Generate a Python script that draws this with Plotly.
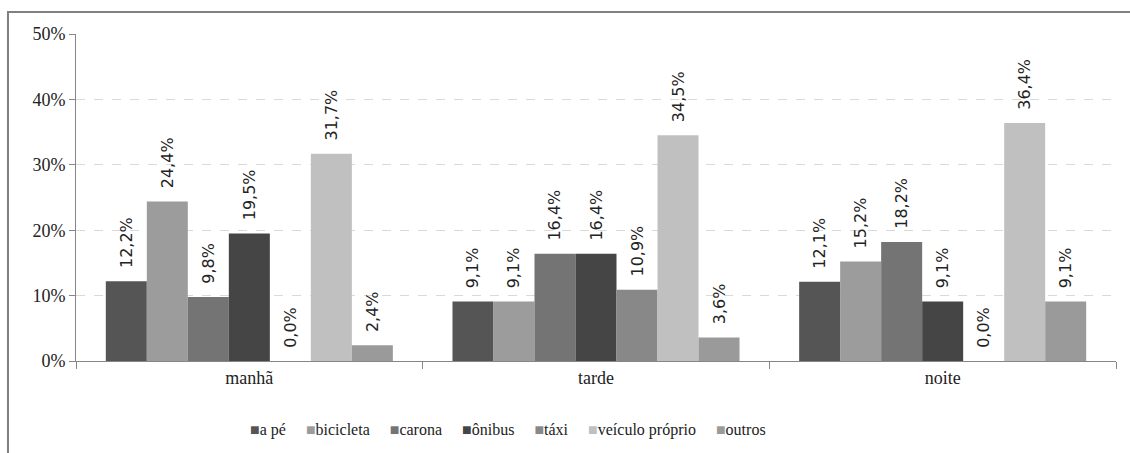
import plotly.graph_objects as go

# Períodos do dia (categorias do eixo x)
periodos = ["manhã", "tarde", "noite"]

# Participação de cada meio de transporte por período (fração)
a_pe = [0.122, 0.091, 0.121]
bicicleta = [0.244, 0.091, 0.152]
carona = [0.098, 0.164, 0.182]
onibus = [0.195, 0.164, 0.091]
taxi = [0.000, 0.109, 0.000]
veiculo_proprio = [0.317, 0.345, 0.364]
outros = [0.024, 0.036, 0.091]

nomes = ["a pé", "bicicleta", "carona", "ônibus", "táxi", "veículo próprio", "outros"]
series = [a_pe, bicicleta, carona, onibus, taxi, veiculo_proprio, outros]
cores = ["#555555", "#9c9c9c", "#747474", "#454545", "#888888", "#c0c0c0", "#9a9a9a"]

y_ticks = [0, 0.1, 0.2, 0.3, 0.4, 0.5]

SERIF = "Liberation Serif, Times New Roman, serif"

fig = go.Figure()
for nome, valores, cor in zip(nomes, series, cores):
    fig.add_trace(go.Bar(
        name=nome,
        x=periodos,
        y=valores,
        marker=dict(color=cor, line=dict(width=0)),
        texttemplate="\u00a0\u00a0%{y:.1%}",
        textposition="outside",
        textangle=-90,
        constraintext="none",
        cliponaxis=False,
        textfont=dict(family="DejaVu Sans", size=16, color="#222222"),
        showlegend=False,
    ))

# Legenda em uma linha: quadrado colorido + nome de cada série
fig.add_annotation(
    x=0.4154, y=-0.211, xref="paper", yref="paper",
    xanchor="center", yanchor="middle",
    text="\u00a0\u00a0\u00a0\u00a0\u00a0".join(
        f"<span style='color:{cor}'>■</span>{nome}" for nome, cor in zip(nomes, cores)
    ),
    showarrow=False,
    font=dict(family=SERIF, size=16, color="#222222"),
)

# Moldura do gráfico
fig.add_shape(
    type="rect", xref="paper", yref="paper",
    x0=-0.0654, y0=-0.6, x1=1.2, y1=1.0673,
    line=dict(color="#808080", width=2), fillcolor="rgba(0,0,0,0)",
    layer="below",
)

fig.update_layout(
    width=1130, height=453,
    margin=dict(l=76, r=14, t=34, b=92),
    paper_bgcolor="white", plot_bgcolor="white",
    barmode="group", bargap=0.172, bargroupgap=0,
    separators=",.",
    font=dict(family=SERIF, size=18, color="#222222"),
)
fig.update_xaxes(
    type="category",
    showline=True, linecolor="#868686", linewidth=1,
    ticks="outside", tickson="boundaries", ticklen=7, tickcolor="#868686",
    showgrid=False,
    tickfont=dict(family=SERIF, size=18, color="#222222"),
)
fig.update_yaxes(
    range=[0, 0.5], tickvals=y_ticks, tickformat=".0%",
    showline=True, linecolor="#868686", linewidth=1,
    ticks="outside", ticklen=6, tickcolor="#868686",
    showgrid=True, gridcolor="#d9d9d9", griddash="dash", gridwidth=1,
    zeroline=False,
    tickfont=dict(family=SERIF, size=18, color="#222222"),
)

fig.write_html("out.html")
